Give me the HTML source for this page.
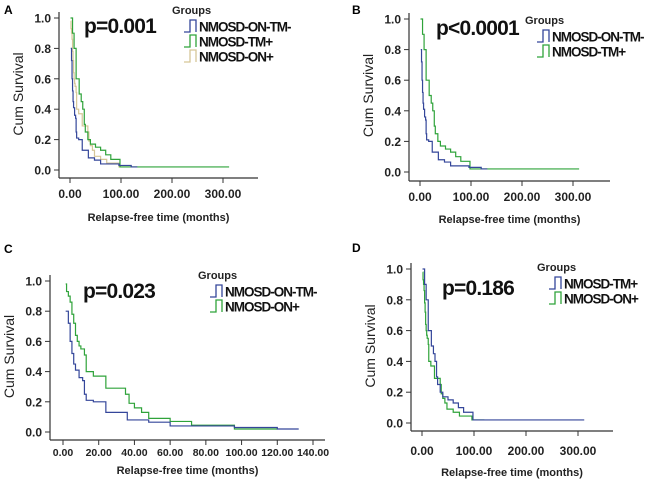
<!DOCTYPE html>
<html><head><meta charset="utf-8">
<style>
body{margin:0;background:#fff;width:661px;height:484px;overflow:hidden;font-family:"Liberation Sans",Arial,sans-serif}
svg text{font-family:"Liberation Sans",Arial,sans-serif}
</style></head>
<body>
<svg id="fig" width="661" height="484" viewBox="0 0 661 484" xmlns="http://www.w3.org/2000/svg"></svg>
<script>
// Kaplan-Meier data: step times (months) and survival values
const onTmNegTimes = [1.5,3,4,5,6,7,9,11,12,13,17,24,36,48,60,96,120,132];
const onTmNegSurv  = [0.8,0.72,0.6,0.52,0.45,0.41,0.36,0.34,0.25,0.21,0.2,0.13,0.08,0.065,0.04,0.03,0.02,0.02];
const tmPosTimes = [1,5,8,12,18,22,25,28,30,35,40,50,60,70,80,98,312];
const tmPosSurv  = [1.0,0.9,0.8,0.6,0.5,0.45,0.4,0.3,0.25,0.2,0.17,0.15,0.13,0.1,0.07,0.02,0.02];
const onPosTimes = [1.5,2,3,4,5,6,7,8,9,10,12,13,17,24,35,37,40,44,48,60,72,96,120];
const onPosSurv  = [0.98,0.93,0.9,0.86,0.78,0.72,0.64,0.6,0.57,0.55,0.51,0.4,0.37,0.29,0.25,0.19,0.16,0.13,0.09,0.07,0.045,0.02,0.02];
const yTicks = [0,0.2,0.4,0.6,0.8,1.0];
const xTicksWide = [0,100,200,300];
const xTicksC = [0,20,40,60,80,100,120,140];

const BLUE="#34469a", GREEN="#2fa33a", TAN="#d6c697";
const svg=document.getElementById('fig');
const NS="http://www.w3.org/2000/svg";
function mk(tag,attrs,parent){const e=document.createElementNS(NS,tag);for(const k in attrs)e.setAttribute(k,attrs[k]);(parent||svg).appendChild(e);return e;}

const panels=[
 {id:'a',letter:'A',lx:4,ly:14,ax:59,axEnd:258,axY:178,x0:70,x1:172,xv1:200,yTop:18,yBot:170,xt:xTicksWide,xtY:198,titleY:221,
  p:'p=0.001',px:84,py:33,legX:172,legY:14,
  series:[['NMOSD-ON-TM-',BLUE,onTmNegTimes,onTmNegSurv],['NMOSD-TM+',GREEN,tmPosTimes,tmPosSurv],['NMOSD-ON+',TAN,onPosTimes,onPosSurv]]},
 {id:'b',letter:'B',lx:352,ly:14,ax:409,axEnd:610,axY:181,x0:420,x1:522,xv1:200,yTop:19,yBot:172,xt:xTicksWide,xtY:201,titleY:223,
  p:'p<0.0001',px:436,py:35,legX:525,legY:24,
  series:[['NMOSD-ON-TM-',BLUE,onTmNegTimes,onTmNegSurv],['NMOSD-TM+',GREEN,tmPosTimes,tmPosSurv]]},
 {id:'c',letter:'C',lx:4,ly:253,ax:50,axEnd:325,axY:440,x0:63,x1:313,xv1:140,yTop:281,yBot:432,xt:xTicksC,xtY:456,titleY:474,dec:true,
  p:'p=0.023',px:83,py:298,legX:198,legY:279,
  series:[['NMOSD-ON-TM-',BLUE,onTmNegTimes,onTmNegSurv],['NMOSD-ON+',GREEN,onPosTimes,onPosSurv]]},
 {id:'d',letter:'D',lx:352,ly:252,ax:411,axEnd:613,axY:431,x0:422,x1:578,xv1:300,yTop:269,yBot:423,xt:xTicksWide,xtY:455,titleY:476,
  p:'p=0.186',px:442,py:295,legX:537,legY:271,
  series:[['NMOSD-TM+',BLUE,tmPosTimes,tmPosSurv],['NMOSD-ON+',GREEN,onPosTimes,onPosSurv]]}
];

panels.forEach(P=>{
  const g=mk('g',{});
  
  
  const sx=v=>P.x0+(P.x1-P.x0)*v/P.xv1;
  const sy=v=>P.yBot-(P.yBot-P.yTop)*v;
  const lt=mk('text',{x:P.lx,y:P.ly,'font-size':12,'font-weight':'bold'},g);lt.textContent=P.letter;
  
  const ya=mk('line',{x1:P.ax,x2:P.ax,y1:P.yTop-6,y2:P.axY,stroke:'#333','stroke-width':1.2},g);
  
  const xa=mk('line',{x1:P.ax,x2:P.axEnd,y1:P.axY,y2:P.axY,stroke:'#333','stroke-width':1.2},g);
  
  yTicks.forEach(t=>{
    mk('line',{x1:P.ax-5,x2:P.ax,y1:sy(t),y2:sy(t),stroke:'#333'},g);
    const tx=mk('text',{x:P.ax-8,y:sy(t)+4.5,'font-size':12,'font-weight':'bold','text-anchor':'end',fill:'#222'},g);
    tx.textContent=t.toFixed(1);
    
  });
  P.xt.forEach(t=>{
    mk('line',{x1:sx(t),x2:sx(t),y1:P.axY,y2:P.axY+5,stroke:'#333'},g);
    const tx=mk('text',{x:sx(t),y:P.xtY,'font-size':P.dec?10.5:12,'font-weight':'bold','text-anchor':'middle',fill:'#222'},g);
    tx.textContent=t.toFixed(2);
    
  });
  const yt=mk('text',{transform:`translate(${P.ax-36},${(P.yTop+P.yBot)/2}) rotate(-90)`,'font-size':14,'text-anchor':'middle',fill:'#222'},g);
  yt.textContent='Cum Survival';
  
  const xt=mk('text',{x:(P.ax+P.axEnd)/2,y:P.titleY,'font-size':11,'font-weight':'bold','text-anchor':'middle',fill:'#222'},g);
  xt.textContent='Relapse-free time (months)';
  
  P.series.slice().reverse().forEach(([name,col,T,S])=>{
    let d=`M${sx(T[0])},${sy(S[0])}`;
    for(let i=1;i<T.length;i++){d+=`H${sx(T[i])}V${sy(S[i])}`;}
    const pth=mk('path',{d:d,fill:'none',stroke:col,'stroke-width':1.2},g);
    
    
  });
  const pt=mk('text',{x:P.px,y:P.py,'font-size':21,'font-weight':'bold',fill:'#111','letter-spacing':'-0.8'},g);
  pt.textContent=P.p;
  
  const gt=mk('text',{x:P.legX,y:P.legY,'font-size':11,'font-weight':'bold',fill:'#222'},g);
  gt.textContent='Groups';
  
  P.series.forEach(([name,col],i)=>{
    const yy=P.legY+14+i*15;
    const lx=P.legX+12;
    const ic=mk('path',{d:`M${lx},${yy+4}H${lx+6}V${yy-8}H${lx+12}V${yy+4}`,fill:'none',stroke:col,'stroke-width':1.3},g);
    
    const lt2=mk('text',{x:lx+15,y:yy+3.5,'font-size':13.5,'font-weight':'bold',fill:'#111','letter-spacing':'-1'},g);
    lt2.textContent=name;
    
  });
});
</script>
</body></html>
